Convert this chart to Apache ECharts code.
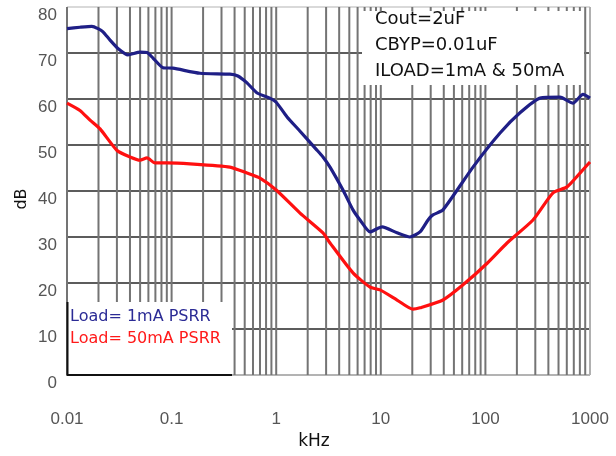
<!DOCTYPE html>
<html>
<head>
<meta charset="utf-8">
<script src="https://cdn.jsdelivr.net/npm/echarts@6/dist/echarts.min.js"></script>
<style>
html,body{margin:0;padding:0;background:#fff;}
#chart{width:616px;height:456px;}
</style>
</head>
<body>
<div id="chart"></div>
<script>
// ---- data (frequency in kHz, PSRR in dB) ----
const blueFreq = [0.01,0.0133,0.0173,0.0198,0.0221,0.0258,0.0307,0.0383,0.0499,0.0582,0.0664,0.0828,0.103,0.187,0.361,0.43,0.526,0.657,0.87,1.0,1.27,1.69,2.45,2.80,3.27,4.35,5.42,6.33,7.9,9.40,10.3,14.3,19.0,23.7,28.3,31.5,39.3,76.1,138,214,333,517,687,857,1000];
const blueDb   = [75.3,75.6,75.8,75.3,74.6,72.8,71.0,69.6,70.2,70.1,68.9,66.8,66.7,65.6,65.4,65.0,63.5,61.3,60.2,59.3,56.1,53.0,48.9,47.4,45.2,40.2,35.9,33.7,31.1,31.9,32.2,30.9,30.0,31.1,33.7,34.8,35.9,45.2,52.6,57.0,60.2,60.4,59.1,61.0,60.2];
const redFreq  = [0.01,0.0133,0.0166,0.0207,0.0301,0.040,0.0499,0.0582,0.0693,0.0903,0.150,0.361,0.526,0.70,1.0,1.69,2.80,3.27,5.42,7.9,9.83,14.3,20.3,23.7,39.3,61.1,104,161,285,443,603,802,1000];
const redDb    = [59.1,57.5,55.4,53.5,48.8,47.4,46.7,47.2,46.1,46.1,45.9,45.2,43.9,42.8,40.2,35.2,30.9,28.7,22.2,19.1,18.5,16.3,14.3,14.6,16.3,19.6,24.3,28.7,33.7,39.6,40.9,43.9,46.3];
const xTickLabels = ['0.01','0.1','1','10','100','1000'];
const yTickLabels = ['0','10','20','30','40','50','60','70','80'];
const seriesNames = ['Load= 1mA PSRR','Load= 50mA PSRR'];
const noteLines = ['Cout=2uF','CBYP=0.01uF','ILOAD=1mA & 50mA'];
const decades = [0.01,0.1,1,10,100];
const multipliers = [1,2,3,4,5,6,7,8,9];

const gridX = [];
decades.forEach(d => multipliers.forEach(m => gridX.push([+(d*m).toPrecision(3), 0])));
gridX.push([1000, 0]);

const zip = (a,b) => a.map((v,i) => [v, b[i]]);

const chart = echarts.init(document.getElementById('chart'), null, {renderer:'canvas'});
const option = {
  backgroundColor: '#fff',
  animation: false,
  grid: {left: 67, right: 26, top: 7, bottom: 81},
  xAxis: {
    type: 'log', logBase: 10, min: 0.01, max: 1000, splitNumber: 5,
    axisLine: {show: false}, axisTick: {show: false},
    splitLine: {show: false},
    axisLabel: {
      margin: 36, color: '#555', fontSize: 17, fontFamily: 'Liberation Sans Narrow, Liberation Sans, sans-serif',
      formatter: v => xTickLabels[Math.round(Math.log10(v)) + 2]
    }
  },
  yAxis: {
    type: 'value', min: 0, max: 80, interval: 10,
    axisLine: {show: false}, axisTick: {show: false},
    splitLine: {show: true, lineStyle: {width: 1.5, color: ['#9a9a9a','#262626','#262626','#262626','#262626','#262626','#262626','#262626','#cccccc']}},
    axisLabel: {
      margin: 10, color: '#555', fontSize: 17, fontFamily: 'Liberation Sans Narrow, Liberation Sans, sans-serif',
      verticalAlign: 'top',
      formatter: v => yTickLabels[Math.round(v/10)]
    }
  },
  series: [
    {
      type: 'custom', z: 0, silent: true, data: gridX,
      renderItem: (params, api) => {
        const x = api.value(0);
        const p0 = api.coord([x, 0]);
        const p1 = api.coord([x, 80]);
        return {type: 'line', shape: {x1: p0[0], y1: p0[1], x2: p1[0], y2: p1[1]},
                style: {stroke: x === 1000 ? '#b0b0b0' : '#747474', lineWidth: 2}};
      }
    },
    {
      name: seriesNames[0], type: 'line', z: 3, data: zip(blueFreq, blueDb),
      showSymbol: false, smooth: 0.2,
      lineStyle: {color: '#1f1f86', width: 3.2}
    },
    {
      name: seriesNames[1], type: 'line', z: 3, data: zip(redFreq, redDb),
      showSymbol: false, smooth: 0.2,
      lineStyle: {color: '#ff1010', width: 3.2}
    }
  ],
  graphic: {
    elements: [
      {type: 'rect', z: 1, shape: {x: 362, y: 11, width: 222, height: 74}, style: {fill: '#fff'}},
      {type: 'rect', z: 1, shape: {x: 67, y: 302, width: 165, height: 73}, style: {fill: '#fff'}},
      {type: 'polyline', z: 2, shape: {points: [[67.5,302],[67.5,375],[232,375]]}, style: {stroke: '#111', lineWidth: 2, fill: null}},
      {type: 'text', z: 4, x: 375, y: 19, style: {text: noteLines[0], fill: '#111', font: '18px "DejaVu Sans", sans-serif', verticalAlign: 'middle'}},
      {type: 'text', z: 4, x: 375, y: 45, style: {text: noteLines[1], fill: '#111', font: '18px "DejaVu Sans", sans-serif', verticalAlign: 'middle'}},
      {type: 'text', z: 4, x: 375, y: 71, style: {text: noteLines[2], fill: '#111', font: '18px "DejaVu Sans", sans-serif', verticalAlign: 'middle'}},
      {type: 'text', z: 4, x: 70, y: 317, style: {text: seriesNames[0], fill: '#2b2b95', font: '16px "DejaVu Sans", sans-serif', verticalAlign: 'middle'}},
      {type: 'text', z: 4, x: 70, y: 339, style: {text: seriesNames[1], fill: '#ff1a1a', font: '16px "DejaVu Sans", sans-serif', verticalAlign: 'middle'}},
      {type: 'text', z: 4, x: 22, y: 199, rotation: Math.PI/2, style: {text: 'dB', fill: '#111', font: '16px "DejaVu Sans", sans-serif', align: 'center', verticalAlign: 'middle'}},
      {type: 'text', z: 4, x: 314, y: 442, style: {text: 'kHz', fill: '#111', font: '17px "DejaVu Sans", sans-serif', align: 'center', verticalAlign: 'middle'}}
    ]
  }
};
chart.setOption(option);
</script>
</body>
</html>
